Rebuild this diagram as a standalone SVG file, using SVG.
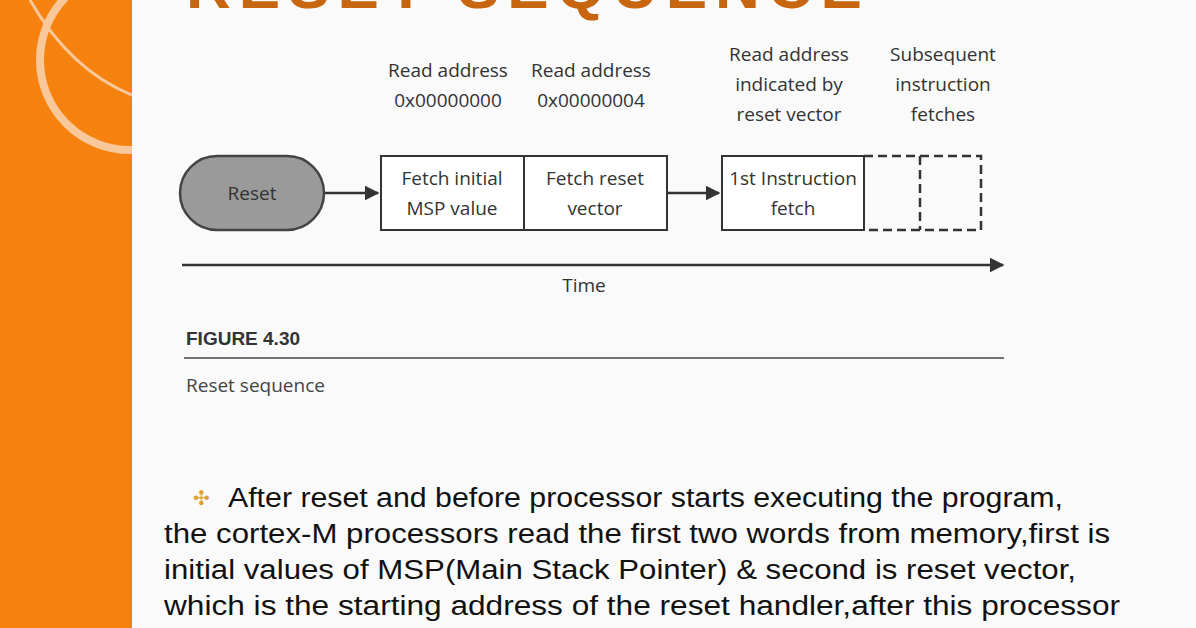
<svg xmlns="http://www.w3.org/2000/svg" width="1196" height="628" viewBox="0 0 1196 628">
<style>
.d{font-family:"Open Sans","Liberation Sans",sans-serif;font-size:19px;fill:#333;text-anchor:middle}
.box{fill:#fff;stroke:#333;stroke-width:2}
.dash{fill:none;stroke:#333;stroke-width:2.5;stroke-dasharray:9,5}
.ln{stroke:#333;stroke-width:2.5;fill:none}
.body{font-family:"Liberation Sans",Arial,sans-serif;font-size:27px;fill:#111}
</style>
<defs><marker id="ah" viewBox="0 0 10 10" refX="9" refY="5" markerWidth="6" markerHeight="6" orient="auto"><path d="M0,0L10,5L0,10z" fill="#333"/></marker>
<clipPath id="band"><rect width="132" height="628"/></clipPath></defs>
<rect width="1196" height="628" fill="#fafafa"/>
<rect width="132" height="628" fill="#f5820f"/>
<g clip-path="url(#band)">
<circle cx="130" cy="60" r="90" fill="none" stroke="#f8c79a" stroke-width="8"/>
<path d="M30,0 Q70,70 132,95" fill="none" stroke="#f8c79a" stroke-width="3"/>
</g>
<text x="528" y="8" font-family="Liberation Sans,sans-serif" font-weight="bold" font-size="62" fill="#c8650f" text-anchor="middle" letter-spacing="8">RESET SEQUENCE</text>
<g id="labels">
<text class="d" x="448" y="77">Read address</text><text class="d" x="448" y="107">0x00000000</text>
<text class="d" x="591" y="77">Read address</text><text class="d" x="591" y="107">0x00000004</text>
<text class="d" x="789" y="61">Read address</text><text class="d" x="789" y="91">indicated by</text><text class="d" x="789" y="121">reset vector</text>
<text class="d" x="943" y="61">Subsequent</text><text class="d" x="943" y="91">instruction</text><text class="d" x="943" y="121">fetches</text>
</g>
<g id="reset"><rect x="180" y="156" width="144" height="74" rx="37" fill="#9a9a9a" stroke="#444" stroke-width="2.5"/><text class="d" x="252" y="200" font-size="21" fill="#444">Reset</text></g>
<g id="fetch-msp"><rect class="box" x="381" y="156" width="143" height="74"/><text class="d" x="452" y="185">Fetch initial</text><text class="d" x="452" y="215">MSP value</text></g>
<g id="fetch-vector"><rect class="box" x="524" y="156" width="143" height="74"/><text class="d" x="595" y="185">Fetch reset</text><text class="d" x="595" y="215">vector</text></g>
<g id="first-fetch"><rect class="box" x="722" y="156" width="142" height="74"/><text class="d" x="793" y="185">1st Instruction</text><text class="d" x="793" y="215">fetch</text></g>
<g id="subsequent"><path class="dash" d="M864,156H981V230H864M920,156V230"/></g>
<g id="connectors">
<line class="ln" x1="325" y1="193" x2="378" y2="193" marker-end="url(#ah)"/>
<line class="ln" x1="668" y1="193" x2="719" y2="193" marker-end="url(#ah)"/>
<line class="ln" x1="182" y1="265" x2="1003" y2="265" marker-end="url(#ah)"/>
</g>
<text class="d" x="584" y="292" font-size="21">Time</text>
<text x="186" y="345" font-family="Liberation Sans Narrow,Liberation Sans,sans-serif" font-weight="bold" font-size="19" fill="#333">FIGURE 4.30</text>
<line x1="184" y1="358" x2="1004" y2="358" stroke="#444" stroke-width="1.5"/>
<text x="186" y="392" font-family="Open Sans,sans-serif" font-size="19" fill="#444">Reset sequence</text>
<text x="193" y="505" font-size="20" fill="#e0a030" font-family="DejaVu Sans,sans-serif">✣</text>
<text class="body" x="228" y="507" textLength="835" lengthAdjust="spacingAndGlyphs">After reset and before processor starts executing the program,</text>
<text class="body" x="164" y="543" textLength="946" lengthAdjust="spacingAndGlyphs">the cortex-M processors read the first two words from memory,first is</text>
<text class="body" x="164" y="579" textLength="912" lengthAdjust="spacingAndGlyphs">initial values of MSP(Main Stack Pointer) &amp; second is reset vector,</text>
<text class="body" x="164" y="615" textLength="956" lengthAdjust="spacingAndGlyphs">which is the starting address of the reset handler,after this processor</text>
</svg>
